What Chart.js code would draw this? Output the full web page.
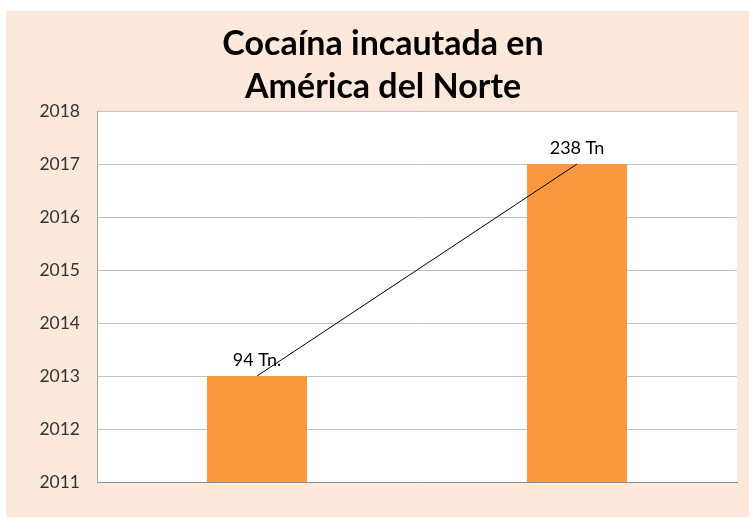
<!DOCTYPE html>
<html lang="es">
<head>
<meta charset="utf-8">
<title>Cocaína incautada en América del Norte</title>
<script src="https://cdn.jsdelivr.net/npm/chart.js@4/dist/chart.umd.min.js"></script>
<style>
  html, body { margin: 0; padding: 0; background: #fff; }
  #wrap { width: 749px; height: 519px; }
</style>
</head>
<body>
<div id="wrap"><canvas id="seizureChart" width="749" height="519"></canvas></div>
<script>
// Data
const categories = ["A", "B"];
const yearValues = [2013, 2017];
const valueLabels = ["94 Tn.", "238 Tn"];
const yearTicks = [2011, 2012, 2013, 2014, 2015, 2016, 2017, 2018];

// Page + plot area backgrounds
const backgroundPlugin = {
  id: "backgrounds",
  beforeDraw(chart) {
    const ctx = chart.ctx;
    const area = chart.chartArea;
    ctx.save();
    ctx.fillStyle = "#ffffff";
    ctx.fillRect(0, 0, chart.width, chart.height);
    ctx.fillStyle = "#fde9dc";
    ctx.fillRect(6, 11, chart.width - 6, 506);
    ctx.fillStyle = "#ffffff";
    ctx.fillRect(area.left, area.top, area.right - area.left, area.bottom - area.top);
    ctx.restore();
  }
};

// Text above each bar
const barLabelPlugin = {
  id: "barLabels",
  afterDatasetsDraw(chart) {
    const ctx = chart.ctx;
    const meta = chart.getDatasetMeta(1);
    ctx.save();
    ctx.font = "18px Lato, 'Open Sans', sans-serif";
    ctx.fillStyle = "#000";
    ctx.textAlign = "center";
    ctx.textBaseline = "middle";
    meta.data.forEach((bar, i) => {
      ctx.fillText(valueLabels[i], bar.x, bar.y - 16);
    });
    ctx.restore();
  }
};

document.addEventListener("DOMContentLoaded", function () {
  const ctx = document.getElementById("seizureChart").getContext("2d");

  new Chart(ctx, {
    data: {
      labels: categories,
      datasets: [
        {
          type: "line",
          data: yearValues,
          borderColor: "#000",
          borderWidth: 1,
          pointRadius: 0,
          fill: false,
          order: 0
        },
        {
          type: "bar",
          data: yearValues,
          backgroundColor: "#f9983f",
          categoryPercentage: 1,
          barPercentage: 0.3125,
          order: 1
        }
      ]
    },
    options: {
      responsive: false,
      animation: false,
      layout: { padding: { left: 29, right: 12, top: 0, bottom: 29 } },
      plugins: {
        legend: { display: false },
        tooltip: { enabled: false },
        title: {
          display: true,
          text: ["Cocaína incautada en", "América del Norte"],
          color: "#000",
          font: { family: "Lato, 'Open Sans', sans-serif", size: 34, weight: "bold", lineHeight: 1.265 },
          padding: { top: 23, bottom: 2 }
        }
      },
      scales: {
        x: {
          grid: { display: false },
          border: { display: true, color: "#8c8c8c", width: 1 },
          ticks: { display: false }
        },
        y: {
          min: yearTicks[0],
          max: yearTicks[yearTicks.length - 1],
          afterBuildTicks(scale) {
            scale.ticks = yearTicks.map(v => ({ value: v }));
          },
          afterFit(scale) {
            scale.width = 68;
          },
          grid: { color: "#c4c4c4", drawTicks: false },
          border: { display: true, color: "#a6a6a6", width: 1 },
          ticks: {
            padding: 17,
            color: "#333",
            font: { family: "Lato, 'Open Sans', sans-serif", size: 17.5 },
            callback: v => String(v)
          }
        }
      }
    },
    plugins: [backgroundPlugin, barLabelPlugin]
  });
});
</script>
</body>
</html>
